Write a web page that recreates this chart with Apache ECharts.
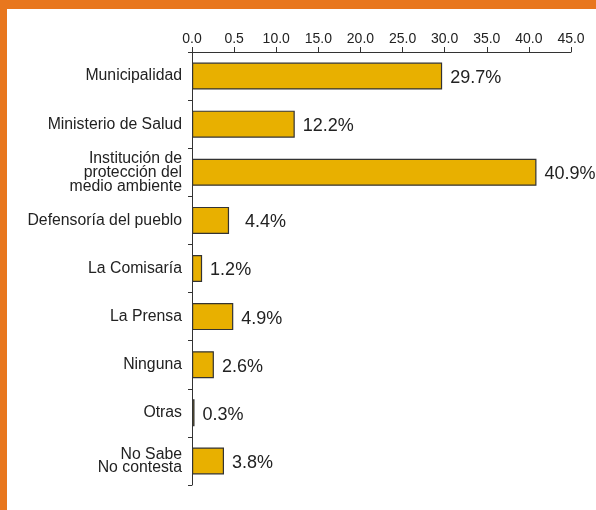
<!DOCTYPE html>
<html><head><meta charset="utf-8">
<script src="https://cdn.jsdelivr.net/npm/echarts@6/dist/echarts.min.js"></script>
<style>html,body{margin:0;padding:0;background:#fff;}#c{width:596px;height:510px;}</style>
</head><body><div id="c"></div>
<script>
const categories = ["Municipalidad","Ministerio de Salud","Institución de\nprotección del\nmedio ambiente","Defensoría del pueblo","La Comisaría","La Prensa","Ninguna","Otras","No Sabe\nNo contesta"];
const values = [29.7, 12.2, 40.9, 4.4, 1.2, 4.9, 2.6, 0.3, 3.8];
const tickLabels = ["0.0","0.5","10.0","15.0","20.0","25.0","30.0","35.0","40.0","45.0"];

const FONT = 'Liberation Sans, Arial, Helvetica, sans-serif';
const chart = echarts.init(document.getElementById('c'), null, {renderer:'canvas'});
const data = values.map((v,i)=> i===3 ? {value:v,label:{distance:16}} : v);
chart.setOption({
  animation:false,
  backgroundColor:'#fff',
  graphic:[
    {type:'rect', left:0, top:0, shape:{width:596,height:9}, style:{fill:'#E8771E'}, silent:true},
    {type:'rect', left:0, top:0, shape:{width:7,height:510}, style:{fill:'#E8771E'}, silent:true}
  ],
  grid:{left:192, right:25, top:52, bottom:25, containLabel:false},
  xAxis:{
    type:'value', position:'top', min:0, max:45, interval:5,
    axisLine:{show:true, lineStyle:{color:'#333', width:1}},
    axisTick:{show:true, length:5, lineStyle:{color:'#333'}},
    splitLine:{show:false},
    axisLabel:{margin:6, color:'#222', fontSize:14, fontFamily:FONT,
      formatter:(v)=>tickLabels[Math.round(v/5)]}
  },
  yAxis:{
    type:'category', inverse:true, data:categories,
    axisLine:{show:true, lineStyle:{color:'#333', width:1}},
    axisTick:{show:true, length:4, lineStyle:{color:'#333'}},
    axisLabel:{margin:10, color:'#222', fontSize:15.8, lineHeight:14, fontFamily:FONT,
      formatter:(v)=> v.indexOf('No Sabe')===0 ? v.split('\n').map(s=>'{t|'+s+'}').join('\n') : v,
      rich:{t:{fontSize:15.8, lineHeight:12.5, color:'#222', fontFamily:FONT}}}
  },
  series:[{
    type:'bar', data:data, barWidth:27,
    itemStyle:{color:'#E8B000', borderColor:'#333', borderWidth:1.2},
    label:{show:true, position:'right', distance:8, offset:[0,2], color:'#222', fontSize:18,
      fontFamily:FONT, formatter:(p)=>p.value.toFixed(1)+'%'}
  }]
});
</script></body></html>
